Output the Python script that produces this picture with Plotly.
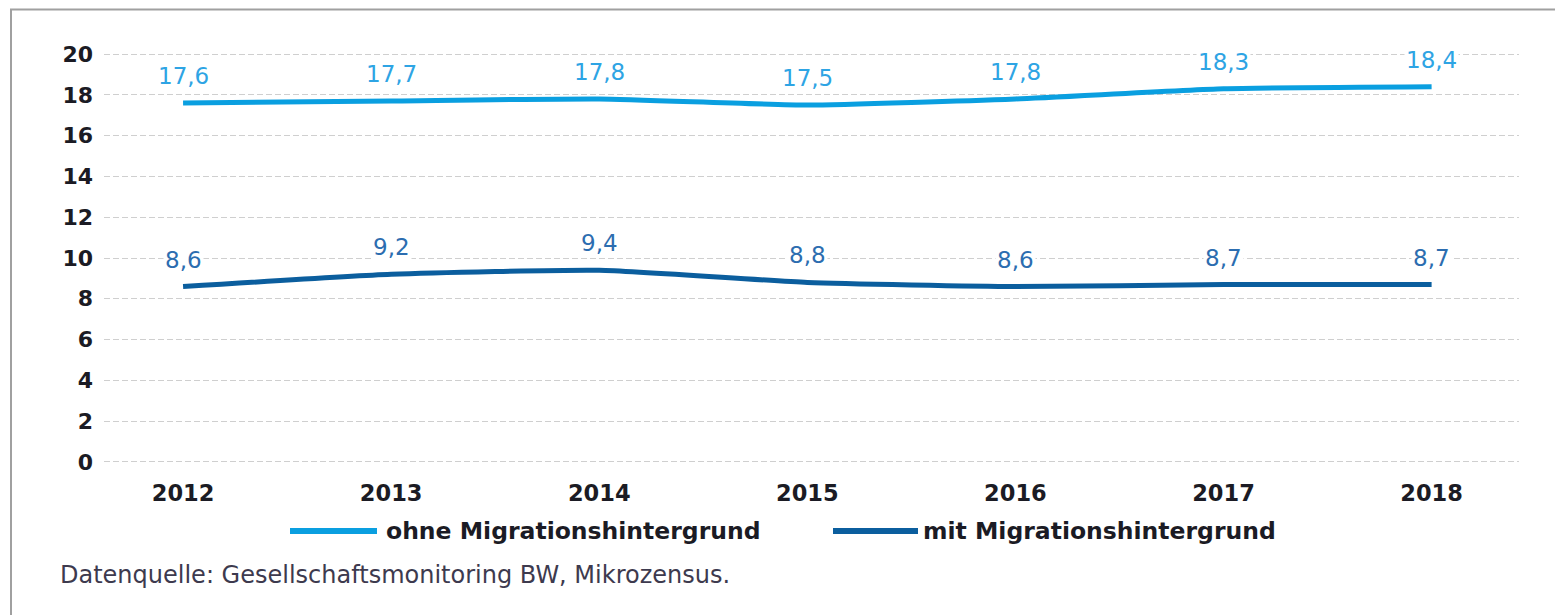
import plotly.graph_objects as go

years = ["2012", "2013", "2014", "2015", "2016", "2017", "2018"]
ohne = [17.6, 17.7, 17.8, 17.5, 17.8, 18.3, 18.4]
mit = [8.6, 9.2, 9.4, 8.8, 8.6, 8.7, 8.7]
series_names = ["ohne Migrationshintergrund", "mit Migrationshintergrund"]
y_ticks = [0, 2, 4, 6, 8, 10, 12, 14, 16, 18, 20]
source_text = "Datenquelle: Gesellschaftsmonitoring BW, Mikrozensus."

LIGHT = "#0a9fe0"
DARK = "#0b5e9e"
LIGHT_LBL = "#2ea4e4"
DARK_LBL = "#2c6db0"
FONT = "DejaVu Sans"

OFF = 8  # page body margin
W, H = 1563 - OFF, 615 - OFF
ML, MR, MT, MB = 104 - OFF, 44, 48 - OFF, 147
PW = W - ML - MR
PH = H - MT - MB

def px_x(px):
    return (px - OFF - ML) / PW

def px_y(py):
    return (H - MB - (py - OFF)) / PH

fig = go.Figure()
for vals, name, col in [(ohne, series_names[0], LIGHT), (mit, series_names[1], DARK)]:
    fig.add_trace(go.Scatter(
        x=list(range(len(years))), y=vals, mode="lines", name=name,
        line=dict(color=col, width=5, shape="spline", smoothing=0.5),
        showlegend=False, hoverinfo="skip",
    ))

annotations = []
for vals, col in [(ohne, LIGHT_LBL), (mit, DARK_LBL)]:
    for i, v in enumerate(vals):
        annotations.append(dict(
            x=i, y=v, xref="x", yref="y", text=f"{v:.1f}".replace(".", ","),
            showarrow=False, yshift=27, bgcolor="white", borderpad=1,
            font=dict(family=FONT, size=23, color=col),
        ))

# custom legend
legend_items = [(290, 377, 384, series_names[0], LIGHT), (833, 918, 921, series_names[1], DARK)]
shapes = []
for x0, x1, tx, name, col in legend_items:
    shapes.append(dict(type="line", xref="paper", yref="paper",
                       x0=px_x(x0), x1=px_x(x1), y0=px_y(531), y1=px_y(531),
                       line=dict(color=col, width=6)))
    annotations.append(dict(x=px_x(tx), y=px_y(531), xref="paper", yref="paper",
                            xanchor="left", yanchor="middle", showarrow=False,
                            text=f"<b>{name}</b>",
                            font=dict(family=FONT, size=23.5, color="#1b1b24")))

annotations.append(dict(x=px_x(58), y=px_y(575), xref="paper", yref="paper",
                        xanchor="left", yanchor="middle", showarrow=False,
                        text=source_text,
                        font=dict(family=FONT, size=24, color="#3d3a4e")))

# frame
shapes.append(dict(type="path", xref="paper", yref="paper",
                   path=f"M {px_x(11)} {px_y(H + 30)} L {px_x(11)} {px_y(9.5)} L {px_x(W + 30)} {px_y(9.5)}",
                   line=dict(color="#a0a0a0", width=2)))

fig.update_layout(
    width=W, height=H,
    margin=dict(l=ML, r=MR, t=MT, b=MB),
    paper_bgcolor="white", plot_bgcolor="white",
    annotations=annotations, shapes=shapes,
    showlegend=False,
    xaxis=dict(
        range=[-0.38, 6.42], tickmode="array", tickvals=list(range(len(years))),
        ticktext=[f"<b>{y}</b>" for y in years], showgrid=False, zeroline=False,
        showline=False, ticks="outside", ticklen=5, tickcolor="rgba(0,0,0,0)",
        tickfont=dict(family=FONT, size=22.5, color="#1b1b24"), fixedrange=True,
    ),
    yaxis=dict(
        range=[-0.3, 20.3], tickmode="array", tickvals=y_ticks,
        ticktext=[f"<b>{t}</b>" for t in y_ticks],
        showgrid=True, gridcolor="#cfcfcf", gridwidth=1, griddash="6px,3px",
        zeroline=False, showline=False, ticks="", ticklabelstandoff=10,
        tickfont=dict(family=FONT, size=22, color="#1b1b24"), fixedrange=True,
    ),
)

fig.write_html("out.html")
